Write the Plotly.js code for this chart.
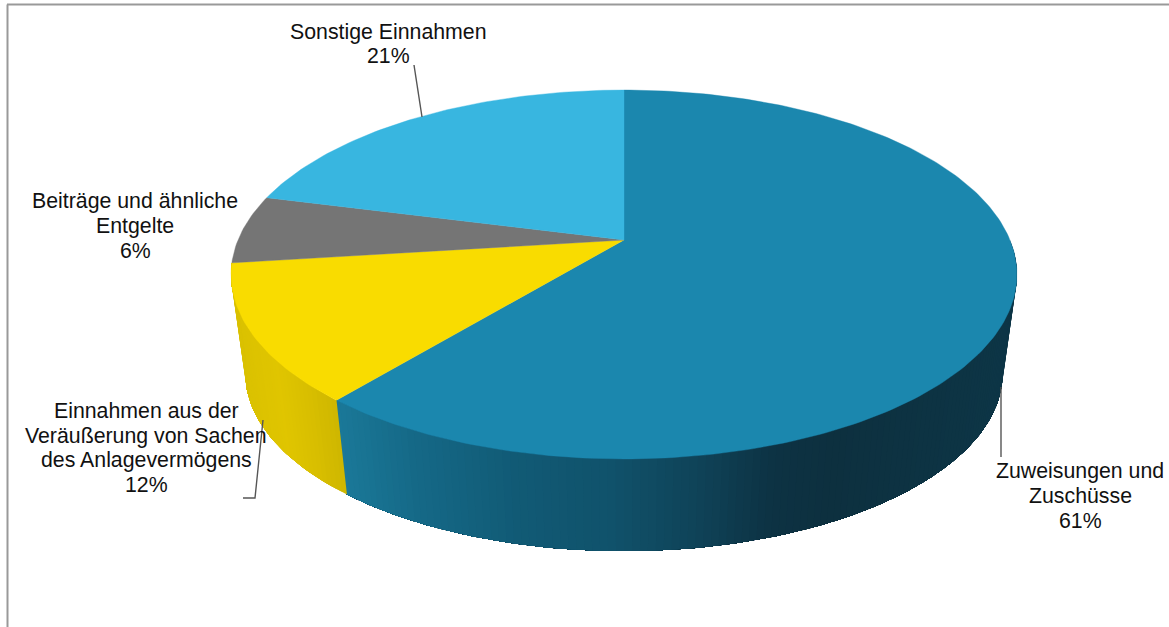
<!DOCTYPE html>
<html>
<head>
<meta charset="utf-8">
<script src="https://cdn.plot.ly/plotly-3.0.1.min.js"></script>
<style>html,body{margin:0;padding:0;background:#fff}#chart{width:1169px;height:627px}</style>
</head>
<body>
<div id="chart"></div>
<script>
// Revenue shares, clockwise from 12 o'clock
const categories = [
  'Zuweisungen und<br>Zuschüsse',
  'Einnahmen aus der<br>Veräußerung von Sachen<br>des Anlagevermögens',
  'Beiträge und ähnliche<br>Entgelte',
  'Sonstige Einnahmen'
];
const shares = [61, 12, 6, 21];
const faceColors = ['#1b87ae', '#f9dc00', '#757575', '#38b6e0'];

// Label centres and leader lines, in pixel-sized axis units
const labelX = [1080, 146, 135, 388];
const labelY = [496, 448, 226, 44];
const leaderX = [[1001, 1001], [243, 255, 263], [], [414, 422]];
const leaderY = [[387, 457], [498, 498, 420], [], [65, 117]];
const labelLineHeight = 24.6;

// Wall shading: colour stops along the horizontal position of the rim.
// Slices at the back have no visible wall.
const wallStops = [
  [[340, [27, 122, 154]], [420, [21, 105, 135]], [520, [17, 90, 117]], [610, [16, 82, 107]],
   [700, [15, 66, 87]], [770, [13, 50, 67]], [830, [13, 48, 63]], [1020, [13, 54, 71]]],
  [[235, [216, 192, 0]], [290, [224, 197, 0]], [320, [216, 190, 0]], [350, [205, 182, 0]]],
  null,
  null
];

// Perspective view of the disc: rim point for a clockwise angle from the top
const top_ = {cx: 624, cy: 240, r: 386, b: 178, k: 0.187};
const bottom_ = {cx: 624, cy: 340, r: 372, b: 171.6, k: 0.187};
function rim(disc, deg) {
  const a = deg * Math.PI / 180, d = 1 + disc.k * Math.cos(a);
  return [disc.cx + disc.r * Math.sin(a) / d, disc.cy - disc.b * Math.cos(a) / d];
}
function shade(stops, x) {
  if (x <= stops[0][0]) return stops[0][1];
  for (let i = 1; i < stops.length; i++) {
    if (x <= stops[i][0]) {
      const t = (x - stops[i - 1][0]) / (stops[i][0] - stops[i - 1][0]);
      return stops[i - 1][1].map((c, j) => c + t * (stops[i][1][j] - c));
    }
  }
  return stops[stops.length - 1][1];
}
const rgb = c => 'rgb(' + c.map(Math.round).join(',') + ')';

const total = shares.reduce((a, b) => a + b, 0);
const traces = [];
const faces = [];
let start = 0;
shares.forEach((share, i) => {
  const end = start + share / total * 360;

  // Side wall: each band runs to the end of the slice and the next one is
  // painted over it, which leaves no seams between the bands
  if (wallStops[i]) {
    const from = Math.max(start, 90), to = Math.min(end, 270);
    const step = 1;
    for (let a = from; a < to; a += step) {
      const upper = [], lower = [];
      for (let b = a; b < to; b += step) { upper.push(rim(top_, b)); lower.push(rim(bottom_, b)); }
      upper.push(rim(top_, to)); lower.push(rim(bottom_, to));
      const ring = upper.concat(lower.reverse());
      const col = rgb(shade(wallStops[i], rim(bottom_, a + step / 2)[0]));
      traces.push({
        x: ring.map(q => q[0]),
        y: ring.map(q => q[1]),
        mode: 'lines', fill: 'toself', fillcolor: col,
        line: {width: 0}, hoverinfo: 'skip', showlegend: false
      });
    }
  }

  // Upper face of the slice
  const fx = [top_.cx], fy = [top_.cy];
  for (let a = start; a < end; a += 1) {
    const q = rim(top_, a);
    fx.push(q[0]); fy.push(q[1]);
  }
  const q = rim(top_, end);
  fx.push(q[0], top_.cx); fy.push(q[1], top_.cy);
  faces.push({
    x: fx, y: fy, mode: 'lines', fill: 'toself', fillcolor: faceColors[i],
    line: {color: faceColors[i], width: 0.4},
    name: categories[i].replace(/<br>/g, ' '), showlegend: false, hoverinfo: 'name'
  });
  start = end;
});
faces.forEach(f => traces.push(f));

leaderX.forEach((xs, i) => {
  if (xs.length) traces.push({
    x: xs, y: leaderY[i], mode: 'lines',
    line: {color: '#555555', width: 1.4}, hoverinfo: 'skip', showlegend: false
  });
});

// One annotation per text line, to hold the tight line spacing
const annotations = [];
categories.forEach((name, i) => {
  const lines = name.split('<br>').concat(shares[i] + '%');
  lines.forEach((text, n) => annotations.push({
    x: labelX[i], y: labelY[i] + (n - (lines.length - 1) / 2) * labelLineHeight,
    xref: 'x', yref: 'y', text: text,
    showarrow: false, align: 'center', xanchor: 'center', yanchor: 'middle',
    font: {family: '"Liberation Sans", Arial, sans-serif', size: 21.3, color: '#111111'}
  }));
});

const layout = {
  width: 1169, height: 627,
  margin: {l: 0, r: 0, t: 0, b: 0},
  paper_bgcolor: '#ffffff', plot_bgcolor: '#ffffff',
  xaxis: {range: [0, 1169], visible: false, fixedrange: true},
  yaxis: {range: [627, 0], visible: false, fixedrange: true},
  annotations: annotations,
  shapes: [
    {type: 'line', xref: 'x', yref: 'y', x0: 7.5, y0: 627, x1: 7.5, y1: 4.5, line: {color: '#999999', width: 2}},
    {type: 'line', xref: 'x', yref: 'y', x0: 7, y0: 4.5, x1: 1169, y1: 4.5, line: {color: '#999999', width: 2}}
  ]
};
Plotly.newPlot('chart', traces, layout, {displayModeBar: false, staticPlot: true});
</script>
</body>
</html>
